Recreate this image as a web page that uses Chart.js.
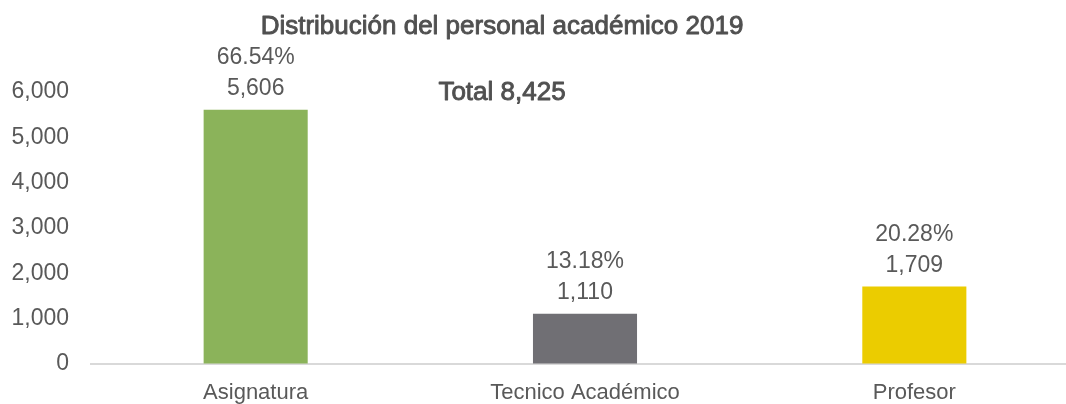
<!DOCTYPE html>
<html>
<head>
<meta charset="utf-8">
<script src="https://cdn.jsdelivr.net/npm/chart.js@4/dist/chart.umd.min.js"></script>
<style>
  html, body { margin: 0; padding: 0; background: #fff; overflow: hidden; width: 1066px; height: 404px; }
  canvas { display: block; }
</style>
</head>
<body>
<canvas id="c" width="1079" height="404"></canvas>
<script>
const chartTitle = "Distribución del personal académico 2019";
const totalLabel = "Total 8,425";
const categories = ["Asignatura", "Tecnico Académico", "Profesor"];
const values = [5606, 1110, 1709];
const percentLabels = ["66.54%", "13.18%", "20.28%"];
const barColors = ["#8bb35a", "#706f74", "#ebcc00"];
const yTicks = [0, 1000, 2000, 3000, 4000, 5000, 6000];

const FONT = "'Liberation Sans', Arial, sans-serif";
const TEXT = "#595959";

const labelPlugin = {
  id: 'barLabels',
  afterDatasetsDraw(chart) {
    const ctx = chart.ctx;
    const meta = chart.getDatasetMeta(0);
    ctx.save();
    ctx.fillStyle = TEXT;
    ctx.font = "23px " + FONT;
    ctx.textAlign = "center";
    ctx.textBaseline = "alphabetic";
    meta.data.forEach((bar, i) => {
      ctx.fillText(values[i].toLocaleString('en-US'), bar.x, bar.y - 15);
      ctx.fillText(percentLabels[i], bar.x, bar.y - 46);
    });
    ctx.restore();
  }
};

function semiBold(ctx, text, x, y) {
  ctx.fillText(text, x, y);
  ctx.strokeText(text, x, y);
}

const titlePlugin = {
  id: 'titles',
  afterDraw(chart) {
    const ctx = chart.ctx;
    ctx.save();
    ctx.fillStyle = "#505050";
    ctx.strokeStyle = "#505050";
    ctx.lineWidth = 0.9;
    ctx.lineJoin = 'round';
    ctx.textAlign = "center";
    ctx.textBaseline = "alphabetic";
    ctx.font = "26px " + FONT;
    semiBold(ctx, chartTitle, 502, 34);
    semiBold(ctx, totalLabel, 502, 100);
    ctx.restore();
  }
};

new Chart(document.getElementById('c'), {
  type: 'bar',
  data: {
    labels: categories,
    datasets: [{
      data: values,
      backgroundColor: barColors,
      borderWidth: 0,
      categoryPercentage: 1,
      barPercentage: 0.316
    }]
  },
  options: {
    responsive: false,
    animation: false,
    devicePixelRatio: 1,
    layout: { padding: { top: 92, right: 0, bottom: 0, left: 0 } },
    plugins: { legend: { display: false }, tooltip: { enabled: false }, title: { display: false } },
    scales: {
      x: {
        grid: { display: true, drawOnChartArea: false, drawTicks: false, color: 'rgba(0,0,0,0)' },
        border: { display: true, color: '#d9d9d9', width: 2 },
        ticks: { color: TEXT, font: { family: FONT, size: 22 }, padding: 16, maxRotation: 0 },
        afterFit(scale) { scale.height = 40; }
      },
      y: {
        min: 0, max: 6000,
        grid: { display: true, drawOnChartArea: false, drawTicks: false, color: 'rgba(0,0,0,0)' },
        border: { display: false },
        afterBuildTicks(scale) { scale.ticks = yTicks.map(v => ({ value: v })); },
        ticks: {
          color: TEXT, font: { family: FONT, size: 23 }, padding: 22,
          callback: (v) => Number(v).toLocaleString('en-US')
        },
        afterFit(scale) { scale.width = 91; }
      }
    }
  },
  plugins: [labelPlugin, titlePlugin]
});
</script>
</body>
</html>
